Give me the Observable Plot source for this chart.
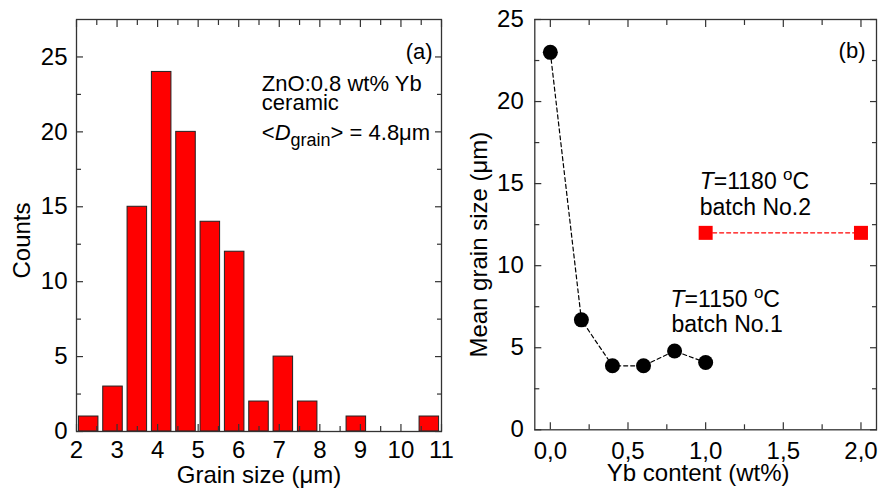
<!DOCTYPE html>
<html><head><meta charset="utf-8">
<script src="https://cdn.jsdelivr.net/npm/d3@7"></script>
<script src="https://cdn.jsdelivr.net/npm/@observablehq/plot@0.6"></script>
<style>
body{margin:0;background:#fff;}
#wrap{position:relative;width:880px;height:491px;overflow:hidden;background:#fff;}
#wrap svg{position:absolute;top:0;overflow:visible;}
</style></head><body><div id="wrap"></div>
<script>
// ---- Panel (a): histogram ----
const binStart = [2.0, 2.6, 3.2, 3.8, 4.4, 5.0, 5.6, 6.2, 6.8, 7.4, 8.0, 8.6, 9.2, 9.8, 10.4];
const binEnd   = [2.6, 3.2, 3.8, 4.4, 5.0, 5.6, 6.2, 6.8, 7.4, 8.0, 8.6, 9.2, 9.8, 10.4, 11.0];
const counts   = [1, 3, 15, 24, 20, 14, 12, 2, 5, 2, 0, 1, 0, 0, 1];
const xTicksA  = [2, 3, 4, 5, 6, 7, 8, 9, 10, 11];
const xMinorA  = [2.5, 3.5, 4.5, 5.5, 6.5, 7.5, 8.5, 9.5, 10.5];
const yTicksA  = [0, 5, 10, 15, 20, 25];
const yMinorA  = [2.5, 7.5, 12.5, 17.5, 22.5];

// ---- Panel (b): mean grain size ----
const ybContent1 = [0.0, 0.2, 0.4, 0.6, 0.8, 1.0];
const grainSize1 = [23.0, 6.7, 3.9, 3.9, 4.8, 4.1];
const ybContent2 = [1.0, 2.0];
const grainSize2 = [12.0, 12.0];
const xTicksB = [0, 0.5, 1.0, 1.5, 2.0];
const xTickLabelsB = ["0,0", "0,5", "1,0", "1,5", "2,0"];
const xMinorB = [0.25, 0.75, 1.25, 1.75];
const yTicksB = [0, 5, 10, 15, 20, 25];
const yMinorB = [2.5, 7.5, 12.5, 17.5, 22.5];

const FONT = "'Liberation Sans', Arial, Helvetica, sans-serif";
const AXC = "#333";

const hist = binStart.map((s, i) => ({x1: s, x2: binEnd[i], n: counts[i]})).filter(d => d.n > 0);
const batch1 = ybContent1.map((x, i) => ({yb: x, size: grainSize1[i]}));
const batch2 = ybContent2.map((x, i) => ({yb: x, size: grainSize2[i]}));

function tickMarks(xMaj, xMin, yMaj, yMin) {
  const o = {stroke: AXC, fill: "none", label: null, strokeWidth: 1.2};
  return [
    Plot.axisX(xMaj, {...o, anchor: "bottom", tickSize: -7}),
    Plot.axisX(xMin, {...o, anchor: "bottom", tickSize: -5}),
    Plot.axisX(xMaj, {...o, anchor: "top", tickSize: -7}),
    Plot.axisX(xMin, {...o, anchor: "top", tickSize: -5}),
    Plot.axisY(yMaj, {...o, anchor: "left", tickSize: -7}),
    Plot.axisY(yMin, {...o, anchor: "left", tickSize: -5}),
    Plot.axisY(yMaj, {...o, anchor: "right", tickSize: -7}),
    Plot.axisY(yMin, {...o, anchor: "right", tickSize: -5})
  ];
}

function richText(svg) {
  d3.select(svg).selectAll("text").each(function () {
    const t = this.textContent;
    const el = d3.select(this);
    if (t === "<Dgrain> = 4.8μm") {
      this.textContent = "";
      el.append("tspan").text("<");
      el.append("tspan").attr("font-style", "italic").text("D");
      el.append("tspan").attr("font-size", 18).attr("dy", 6).text("grain");
      el.append("tspan").attr("dy", -6).text("> = 4.8μm");
    } else if (t === "T=1180 oC" || t === "T=1150 oC") {
      const num = t.slice(2, 6);
      this.textContent = "";
      el.append("tspan").attr("font-style", "italic").text("T");
      el.append("tspan").text("=" + num + " ");
      el.append("tspan").attr("font-size", 17).attr("dy", -9).text("o");
      el.append("tspan").attr("dy", 9).text("C");
    }
  });
}

const plotA = Plot.plot({
  width: 445, height: 491,
  marginLeft: 76, marginRight: 4, marginTop: 19, marginBottom: 60,
  style: {fontFamily: FONT, fontSize: "24px", background: "transparent", color: "black", overflow: "visible"},
  x: {domain: [2, 11]},
  y: {domain: [0, 27.5]},
  marks: [
    Plot.rectY(hist, {x1: "x1", x2: "x2", y: "n", fill: "#ff0000", stroke: "#222", strokeWidth: 1, insetLeft: 2.4, insetRight: 2.4}),
    Plot.frame({stroke: AXC, strokeWidth: 1.3}),
    ...tickMarks(xTicksA, xMinorA, yTicksA, yMinorA),
    Plot.axisX(xTicksA, {anchor: "bottom", tickSize: 0, tickPadding: 9, label: null, fontSize: 24, fill: "black"}),
    Plot.axisY(yTicksA, {anchor: "left", tickSize: 0, tickPadding: 9, label: null, fontSize: 24, fill: "black"}),
    Plot.text(["Grain size (μm)"], {text: d => d, frameAnchor: "bottom", lineAnchor: "bottom", dy: 51, fontSize: 24}),
    Plot.text(["Counts"], {text: d => d, frameAnchor: "left", rotate: -90, textAnchor: "middle", lineAnchor: "bottom", dx: -46.7, dy: 15, fontSize: 24}),
    Plot.text(["(a)"], {text: d => d, x: 10.78, y: 24.85, textAnchor: "end", lineAnchor: "bottom", fontSize: 22}),
    Plot.text(["ZnO:0.8 wt% Yb"], {text: d => d, x: 6.57, y: 22.72, textAnchor: "start", lineAnchor: "bottom", fontSize: 22}),
    Plot.text(["ceramic"], {text: d => d, x: 6.57, y: 21.45, textAnchor: "start", lineAnchor: "bottom", fontSize: 22}),
    Plot.text(["<Dgrain> = 4.8μm"], {text: d => d, x: 6.57, y: 19.43, textAnchor: "start", lineAnchor: "bottom", fontSize: 22})
  ]
});
plotA.style.left = "0px";

const plotB = Plot.plot({
  width: 435, height: 491,
  marginLeft: 89.3, marginRight: 4, marginTop: 19, marginBottom: 61.7,
  style: {fontFamily: FONT, fontSize: "24px", background: "transparent", color: "black", overflow: "visible"},
  x: {domain: [-0.1, 2.1]},
  y: {domain: [0, 25]},
  marks: [
    Plot.frame({stroke: AXC, strokeWidth: 1.3}),
    ...tickMarks(xTicksB, xMinorB, yTicksB, yMinorB),
    Plot.axisX(xTicksB, {anchor: "bottom", tickSize: 0, tickPadding: 12, label: null, fontSize: 24, fill: "black",
      tickFormat: (d) => xTickLabelsB[xTicksB.indexOf(d)]}),
    Plot.axisY(yTicksB, {anchor: "left", tickSize: 0, tickPadding: 11, label: null, fontSize: 24, fill: "black"}),
    Plot.line(batch1, {x: "yb", y: "size", stroke: "black", strokeWidth: 1.2, strokeDasharray: "4,3"}),
    Plot.line(batch2, {x: "yb", y: "size", stroke: "#ff0000", strokeWidth: 1.2, strokeDasharray: "4,3"}),
    Plot.dot(batch1, {x: "yb", y: "size", r: 7.5, fill: "black"}),
    Plot.dot(batch2, {x: "yb", y: "size", symbol: "square", r: 7.9, fill: "#ff0000"}),
    Plot.text(["Yb content (wt%)"], {text: d => d, frameAnchor: "bottom", lineAnchor: "bottom", dx: -7.5, dy: 51, fontSize: 24}),
    Plot.text(["Mean grain size (μm)"], {text: d => d, frameAnchor: "left", rotate: -90, textAnchor: "middle", lineAnchor: "bottom", dx: -48.3, dy: 20, fontSize: 24}),
    Plot.text(["(b)"], {text: d => d, x: 2.029, y: 22.64, textAnchor: "end", lineAnchor: "bottom", fontSize: 22}),
    Plot.text(["T=1180 oC"], {text: d => d, x: 0.962, y: 14.70, textAnchor: "start", lineAnchor: "bottom", fontSize: 23}),
    Plot.text(["batch No.2"], {text: d => d, x: 0.962, y: 13.07, textAnchor: "start", lineAnchor: "bottom", fontSize: 23}),
    Plot.text(["T=1150 oC"], {text: d => d, x: 0.774, y: 7.48, textAnchor: "start", lineAnchor: "bottom", fontSize: 23}),
    Plot.text(["batch No.1"], {text: d => d, x: 0.78, y: 5.95, textAnchor: "start", lineAnchor: "bottom", fontSize: 23})
  ]
});
plotB.style.left = "445px";

richText(plotA);
richText(plotB);
const wrap = document.getElementById("wrap");
wrap.appendChild(plotA);
wrap.appendChild(plotB);
</script></body></html>
